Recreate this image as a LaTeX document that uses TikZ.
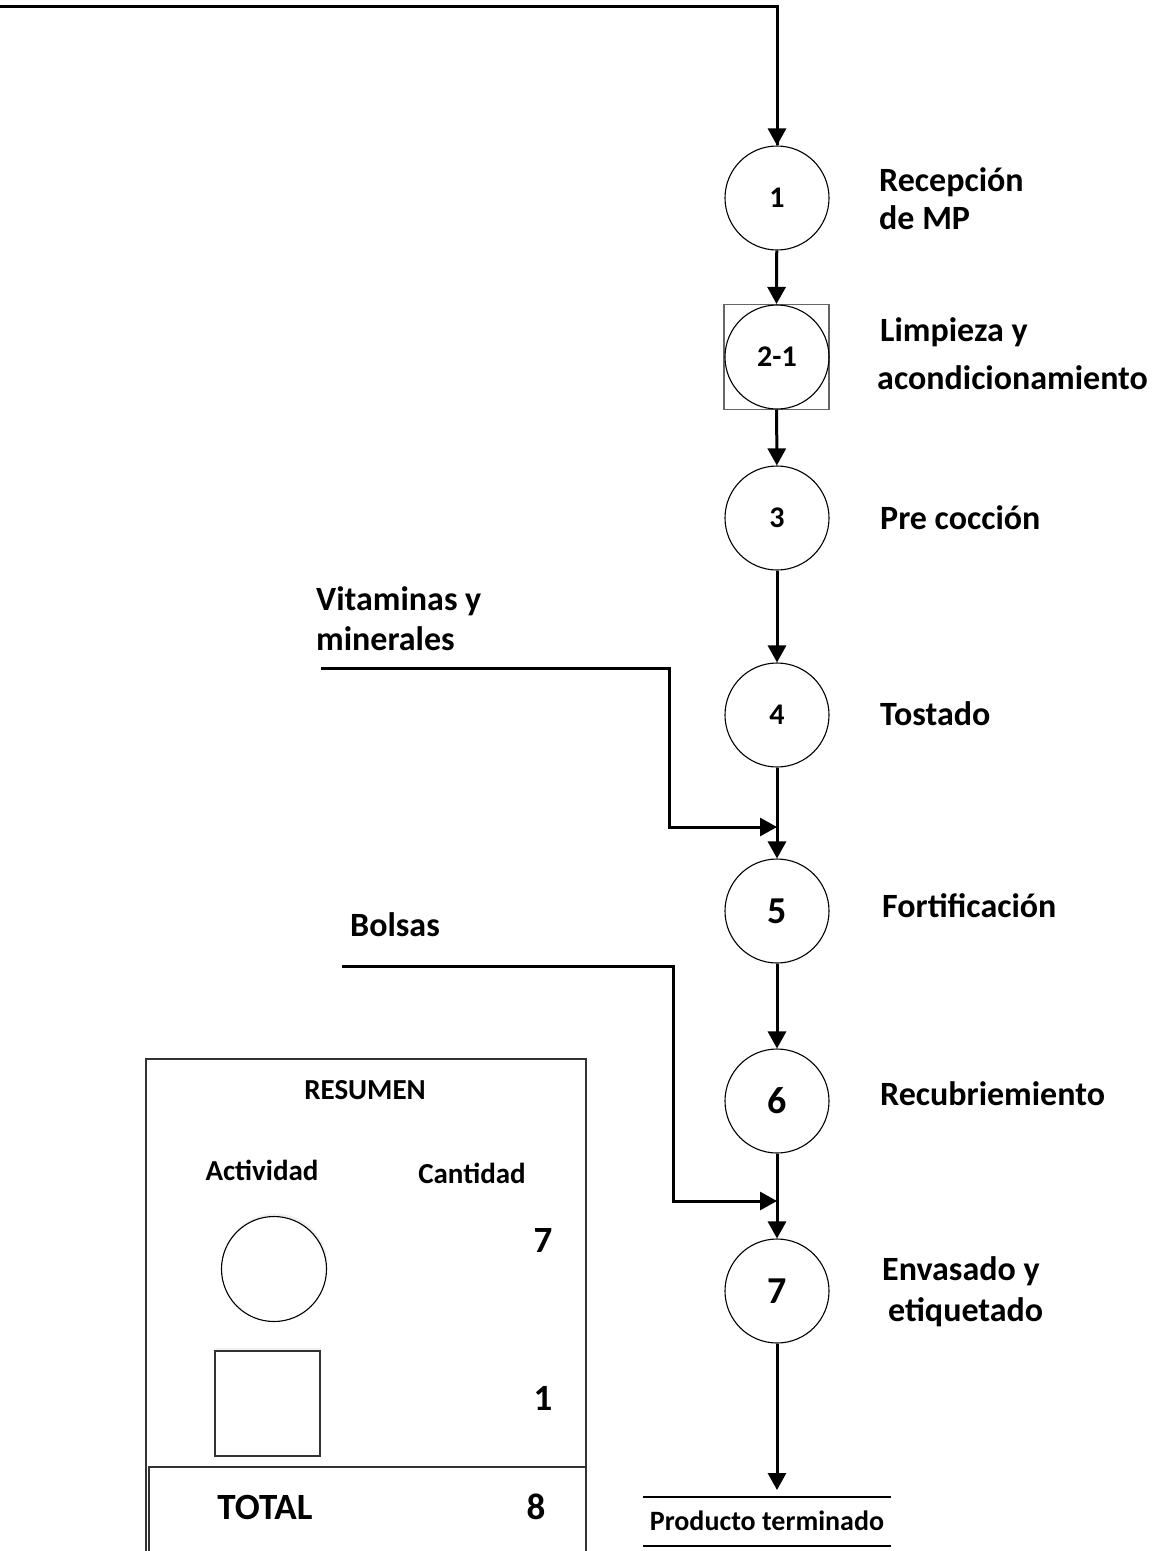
\documentclass[tikz,border=0pt]{standalone}
\usepackage{fontspec}
\setmainfont{Carlito}[BoldFont={Carlito Bold}]
\usetikzlibrary{arrows.meta,shadows}

\begin{document}
\begin{tikzpicture}[x=1pt,y=-1pt,
  flow/.style={line width=3pt,-{Triangle[width=18pt,length=17pt]}},
  feedline/.style={line width=3pt},
  op/.style={circle,draw,line width=1.1pt,minimum size=104pt,inner sep=0pt},
  smallnum/.style={font=\bfseries\fontsize{30}{33}\selectfont},
  bignum/.style={font=\bfseries\fontsize{38}{42}\selectfont},
  lbl/.style={anchor=west,align=left,inner sep=0pt,font=\bfseries\fontsize{34}{40}\selectfont},
  sumtxt/.style={font=\bfseries\fontsize{29}{32}\selectfont,inner sep=0pt},
  sumnum/.style={font=\bfseries\fontsize{37}{40}\selectfont,inner sep=0pt},
  frame/.style={draw=black!80,line width=1.4pt},
  softdrop/.style={drop shadow={opacity=0.12,shadow xshift=1pt,shadow yshift=3pt}}]
\useasboundingbox (0,0) rectangle (1167,1551);

% ---- operations ----
\node[op,smallnum] (c1) at (777,198) {1};
\node[draw=black!60,line width=1.1pt,minimum size=105pt,inner sep=0pt] (sq2) at (776.5,357) {};
\node[op,smallnum] (c2) at (777,357) {2-1};
\node[op,smallnum] (c3) at (777,518) {3};
\node[op,smallnum] (c4) at (777,715) {4};
\node[op,bignum] (c5) at (777,911) {5};
\node[op,bignum] (c6) at (777,1101) {6};
\node[op,bignum] (c7) at (777,1291) {7};

% ---- operation names ----
\node[lbl,font=\bfseries\fontsize{34}{38}\selectfont] (l1) at (879,199) {Recepción\\de MP};
\node[lbl,font=\bfseries\fontsize{34}{48}\selectfont] (l2) at (877,354) {\hspace*{3pt}Limpieza y\\acondicionamiento};
\node[lbl] (l3) at (880,518) {Pre cocción};
\node[lbl] (l4) at (880,714) {Tostado};
\node[lbl] (l5) at (882,906) {Fortificación};
\node[lbl] (l6) at (880,1094) {Recubriemiento};
\node[lbl,font=\bfseries\fontsize{34}{41}\selectfont] (l7) at (882,1292) {Envasado y\\\hspace*{6pt}etiquetado};

% ---- main flow ----
\coordinate (feed) at (0,6);
\draw[feedline] (feed) -| (c1.north);
\draw[flow] (feed -| c1) -- (c1.north);
\draw[flow] (c1) -- (sq2.north);
\draw[flow] (sq2) -- (c3);
\draw[flow] (c3) -- (c4);
\draw[flow] (c4) -- (c5);
\draw[flow] (c5) -- (c6);
\draw[flow] (c6) -- (c7);
\coordinate (pend) at (777,1490);
\draw[flow] (c7) -- (pend);

% ---- additions ----
\node[lbl,font=\bfseries\fontsize{34}{40}\selectfont] (vit) at (316,619) {Vitaminas y\\minerales};
\coordinate (vm0) at (321,668);
\coordinate (vmk) at (669,827);
\coordinate (vm1) at (777,827);
\draw[flow] (vm0) -| (vmk) -- (vm1);

\node[lbl] (bol) at (350,925) {Bolsas};
\coordinate (bo0) at (342,966);
\coordinate (bok) at (673,1201);
\coordinate (bo1) at (777,1201);
\draw[flow] (bo0) -| (bok) -- (bo1);

% ---- finished product ----
\draw[line width=2.6pt] (643,1497) -- (891,1497);
\node[font=\bfseries\fontsize{28}{32}\selectfont,inner sep=0pt] (prod) at (767,1521) {Producto terminado};
\draw[line width=2.6pt] (643,1546) -- (891,1546);

% ---- summary table ----
\draw[frame] (146,1562) -- (146,1059) -- (586,1059) -- (586,1562);
\draw[frame] (149,1562) -- (149,1467) -- (586,1467);
\node[sumtxt] (res) at (365,1090) {RESUMEN};
\node[sumtxt] (act) at (262,1170) {Actividad};
\node[sumtxt] (can) at (472,1173) {Cantidad};
\node[circle,draw,line width=1.1pt,minimum width=105pt,minimum height=104pt,inner sep=0pt,fill=white,softdrop] (sc) at (274,1269) {};
\node[sumnum] (n7) at (543,1240) {7};
\node[draw=black!80,line width=1.2pt,minimum size=105pt,inner sep=0pt,fill=white,softdrop] (ss) at (267.5,1403.5) {};
\node[sumnum] (n1) at (543,1398) {1};
\node[sumnum] (tot) at (265,1507) {TOTAL};
\node[sumnum] (n8) at (536,1507) {8};
\end{tikzpicture}
\end{document}
